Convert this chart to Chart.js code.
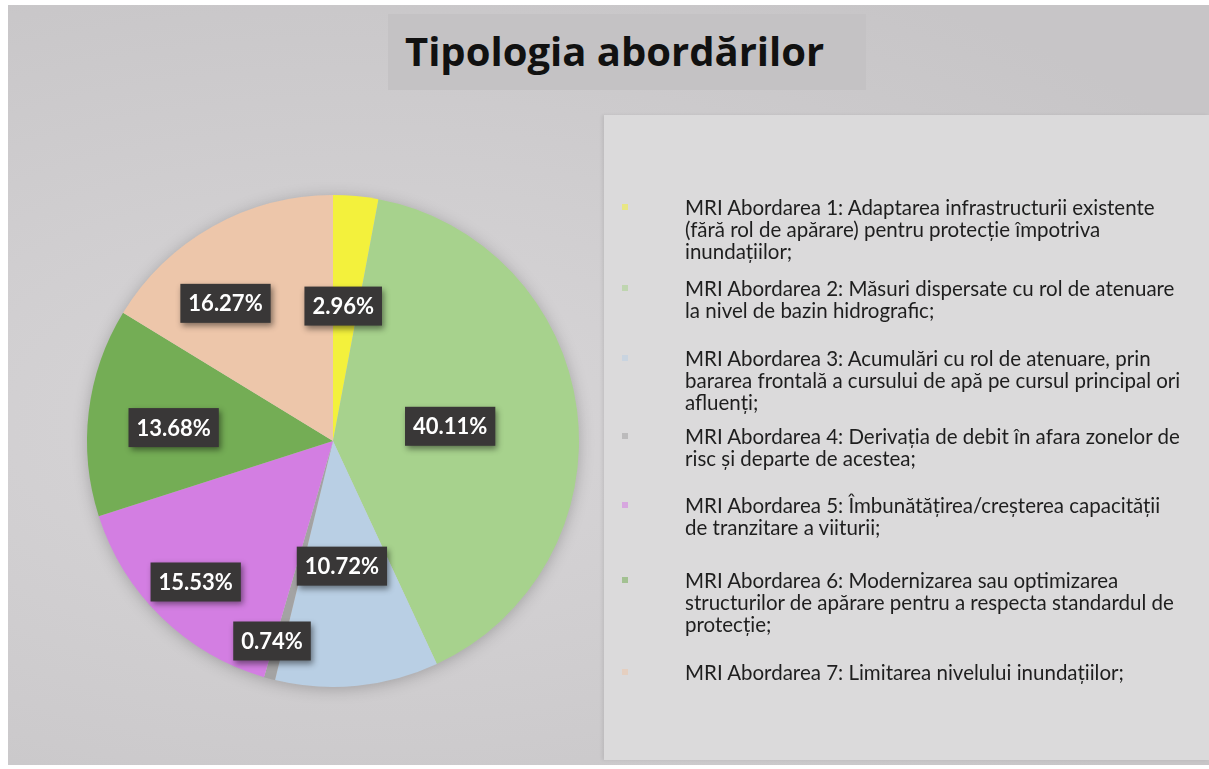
<!DOCTYPE html>
<html lang="ro">
<head>
  <meta charset="UTF-8" />
  <title>Tipologia abordărilor</title>
  <script src="https://cdn.jsdelivr.net/npm/chart.js"></script>
  <style>
    html, body {
      margin: 0;
      padding: 0;
      width: 1209px;
      height: 769px;
      background: #fff;
      overflow: hidden;
      font-family: Lato, 'Open Sans', sans-serif;
    }

    #slide {
      position: absolute;
      left: 8px;
      top: 5px;
      width: 1201px;
      height: 760px;
      background: radial-gradient(ellipse at 30% 55%, #d8d6d8 0%, #cfcdcf 45%, #c7c5c7 85%);
    }

    #title {
      position: absolute;
      left: 380px;
      top: 9px;
      width: 461px;
      height: 76px;
      padding-left: 17px;
      background: #c4c2c4;
      color: #111;
      font-family: 'Open Sans', sans-serif;
      font-weight: 700;
      font-size: 40px;
      line-height: 74px;
    }

    #pie-wrap {
      position: absolute;
      left: 59px;
      top: 170px;
      width: 532px;
      height: 532px;
    }

    #legend {
      position: absolute;
      left: 596px;
      top: 110px;
      width: 605px;
      height: 645px;
      background: #dbdadb;
      box-shadow: -2px 0 3px rgba(0, 0, 0, 0.08);
    }

    .item {
      position: absolute;
      left: 0;
      font-size: 20.5px;
      line-height: 22px;
      color: #1e1e1e;
    }

    .item .mark {
      position: absolute;
      left: 18px;
      top: 8px;
      width: 6px;
      height: 6px;
      opacity: 0.55;
    }

    .item .txt {
      margin-left: 81px;
      white-space: nowrap;
    }
  </style>
</head>

<body>
  <div id="slide">
    <div id="title">Tipologia abordărilor</div>
    <div id="pie-wrap"><canvas id="pieChart" width="532" height="532"></canvas></div>
    <div id="legend"></div>
  </div>

  <script>
    // categories (each one split into the lines it has in the legend)
    const labels = [
      ['MRI Abordarea 1: Adaptarea infrastructurii existente', '(fără rol de apărare) pentru protecție împotriva', 'inundațiilor;'],
      ['MRI Abordarea 2: Măsuri dispersate cu rol de atenuare', 'la nivel de bazin hidrografic;'],
      ['MRI Abordarea 3: Acumulări cu rol de atenuare, prin', 'bararea frontală a cursului de apă pe cursul principal ori', 'afluenți;'],
      ['MRI Abordarea 4: Derivația de debit în afara zonelor de', 'risc și departe de acestea;'],
      ['MRI Abordarea 5: Îmbunătățirea/creșterea capacității', 'de tranzitare a viiturii;'],
      ['MRI Abordarea 6: Modernizarea sau optimizarea', 'structurilor de apărare pentru a respecta standardul de', 'protecție;'],
      ['MRI Abordarea 7: Limitarea nivelului inundațiilor;']
    ];

    // share of each approach, in percent
    const shares = [2.96, 40.11, 10.72, 0.74, 15.53, 13.68, 16.27];

    const colors = ['#f3f13c', '#a7d28d', '#b9cfe4', '#a3a3a3', '#d37ee2', '#74ad55', '#edc6aa'];

    // where each percent box sits: fraction of the radius, and a small turn in degrees
    const labelRadius = [0.55, 0.48, 0.51, 0.85, 0.80, 0.65, 0.71];
    const labelTurn = [-1, 0, 1.6, 2, 0, -2, -8.7];

    // first line of each legend entry, in px from the legend box top
    const legendTops = [81, 162, 232, 310, 379, 454, 546];

    // legend built from the same arrays
    const legend = document.getElementById('legend');
    labels.forEach((lines, i) => {
      const item = document.createElement('div');
      item.className = 'item';
      item.style.top = legendTops[i] + 'px';
      item.innerHTML = '<div class="mark" style="background:' + colors[i] + '"></div>' +
        '<div class="txt">' + lines.join('<br>') + '</div>';
      legend.appendChild(item);
    });

    // soft shadow behind the whole pie
    const pieShadow = {
      id: 'pieShadow',
      beforeDatasetsDraw(chart) {
        const arc = chart.getDatasetMeta(0).data[0];
        if (!arc) return;
        const ctx = chart.ctx;
        ctx.save();
        ctx.shadowColor = 'rgba(0,0,0,0.25)';
        ctx.shadowBlur = 16;
        ctx.shadowOffsetY = 2;
        ctx.fillStyle = '#cfcdcf';
        ctx.beginPath();
        ctx.arc(arc.x, arc.y, arc.outerRadius - 1, 0, Math.PI * 2);
        ctx.fill();
        ctx.restore();
      }
    };

    // dark percent boxes
    const percentBoxes = {
      id: 'percentBoxes',
      afterDatasetsDraw(chart) {
        const ctx = chart.ctx;
        const meta = chart.getDatasetMeta(0);
        ctx.save();
        ctx.font = 'bold 22px Lato, "Open Sans", sans-serif';
        ctx.textAlign = 'center';
        ctx.textBaseline = 'middle';
        meta.data.forEach((arc, i) => {
          const mid = (arc.startAngle + arc.endAngle) / 2 + labelTurn[i] * Math.PI / 180;
          const r = arc.outerRadius * labelRadius[i];
          const x = arc.x + Math.cos(mid) * r;
          const y = arc.y + Math.sin(mid) * r;
          const text = shares[i].toFixed(2) + '%';
          const w = ctx.measureText(text).width + 16;
          const h = 39;
          ctx.save();
          ctx.shadowColor = 'rgba(0,0,0,0.45)';
          ctx.shadowBlur = 6;
          ctx.shadowOffsetX = 2;
          ctx.shadowOffsetY = 3;
          ctx.fillStyle = '#393737';
          ctx.fillRect(x - w / 2, y - h / 2, w, h);
          ctx.restore();
          ctx.fillStyle = '#ffffff';
          ctx.fillText(text, x, y + 1);
        });
        ctx.restore();
      }
    };

    new Chart(document.getElementById('pieChart'), {
      type: 'pie',
      data: {
        labels: labels,
        datasets: [{
          data: shares,
          backgroundColor: colors,
          borderWidth: 0
        }]
      },
      options: {
        responsive: false,
        animation: false,
        layout: { padding: 20 },
        plugins: {
          legend: { display: false },
          tooltip: { enabled: false }
        }
      },
      plugins: [pieShadow, percentBoxes]
    });
  </script>
</body>
</html>
